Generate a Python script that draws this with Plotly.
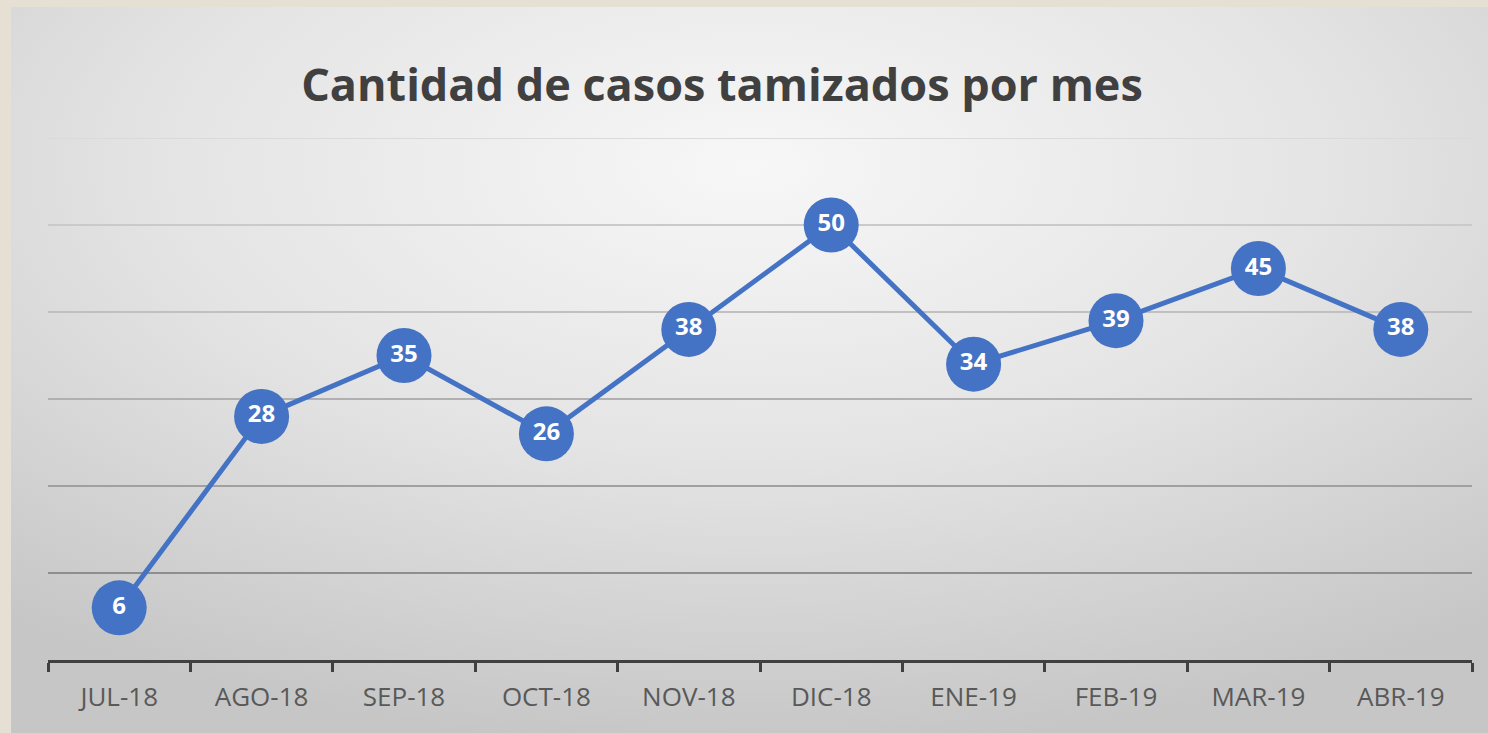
import base64
import plotly.graph_objects as go

months = ["JUL-18", "AGO-18", "SEP-18", "OCT-18", "NOV-18", "DIC-18",
          "ENE-19", "FEB-19", "MAR-19", "ABR-19"]
casos = [6, 28, 35, 26, 38, 50, 34, 39, 45, 38]
grid_values = [10, 20, 30, 40, 50, 60]
grid_colors = ["#8E8E8E", "#A0A0A0", "#B0B0B0", "#C0C0C0", "#CACACA", "#DADADA"]

W, H = 1488, 733
PL, PR, PT, PB = 48, 16, 138, 73
PW, PH = W - PL - PR, H - PT - PB
panel_x0, panel_y0 = 11, 7
BEIGE = "#E6DFD4"

svg = f'''<svg xmlns="http://www.w3.org/2000/svg" width="{W}" height="{H}" viewBox="0 0 {W} {H}" preserveAspectRatio="none">
<defs><radialGradient id="g" cx="0.5" cy="0.22" r="0.8" gradientUnits="objectBoundingBox">
<stop offset="0" stop-color="#F7F7F7"/><stop offset="0.5" stop-color="#E4E4E4"/><stop offset="1" stop-color="#C6C6C6"/>
</radialGradient></defs>
<rect width="{W}" height="{H}" fill="url(#g)"/></svg>'''
src = "data:image/svg+xml;base64," + base64.b64encode(svg.encode()).decode()

fig = go.Figure()
fig.add_trace(go.Scatter(
    x=months, y=casos, mode="lines+markers+text",
    line=dict(color="#4472C4", width=5),
    marker=dict(size=55, color="#4472C4"),
    text=[str(v) for v in casos], textposition="middle center",
    textfont=dict(family="Open Sans", size=24, color="white", weight="bold"),
    cliponaxis=False, hoverinfo="skip",
))

for v, c in zip(grid_values, grid_colors):
    fig.add_shape(type="line", xref="paper", yref="y", x0=0, x1=1, y0=v, y1=v,
                  line=dict(color=c, width=2), layer="below")

fig.update_layout(
    width=W, height=H,
    margin=dict(l=PL, r=PR, t=PT, b=PB),
    paper_bgcolor=BEIGE, plot_bgcolor="rgba(0,0,0,0)",
    showlegend=False,
    title=dict(text="<b>Cantidad de casos tamizados por mes</b>", x=722 / W, xanchor="center",
               y=1 - 85 / H, yanchor="middle",
               font=dict(family="Open Sans", size=45, color="#404040")),
    images=[dict(source=src, xref="paper", yref="paper",
                 x=(panel_x0 - PL) / PW, y=1 + (PT - panel_y0) / PH,
                 sizex=(W - panel_x0) / PW, sizey=(H - panel_y0) / PH,
                 xanchor="left", yanchor="top", sizing="stretch", layer="below")],
    xaxis=dict(type="category", showgrid=False, showline=True, linecolor="#404040", linewidth=3,
               ticks="outside", tickson="boundaries", ticklen=9, tickwidth=3, tickcolor="#404040",
               ticklabelstandoff=12,
               tickfont=dict(family="Open Sans", size=26, color="#595959"),
               range=[-0.5, 9.5], fixedrange=True),
    yaxis=dict(range=[0, 60], showgrid=False, zeroline=False, showticklabels=False,
               fixedrange=True),
)

fig.write_html(
    "out.html",
    config={"displayModeBar": False},
    post_script=(
        "document.body.style.margin='0';"
        "document.body.style.overflow='hidden';"
        f"document.body.style.background='{BEIGE}';"
    ),
)
